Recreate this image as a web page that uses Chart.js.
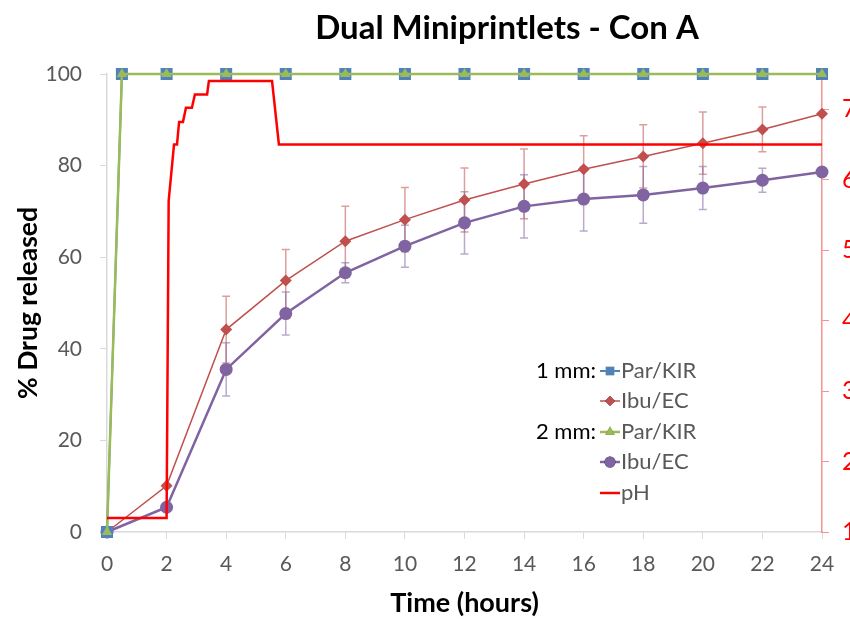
<!DOCTYPE html>
<html><head><meta charset="utf-8">
<script src="https://cdn.jsdelivr.net/npm/chart.js@4"></script>
<style>
html,body{margin:0;padding:0;overflow:hidden;background:#fff;width:850px;height:621px}
#wrap{position:relative;width:1014px;height:621px}
</style>
</head><body>
<div id="wrap"><canvas id="c" width="1014" height="621"></canvas></div>
<script>
// ---- data ----
const parTimes   = [0, 0.5, 2, 4, 6, 8, 10, 12, 14, 16, 18, 20, 22, 24];
const parKir1mm  = [0, 100, 100, 100, 100, 100, 100, 100, 100, 100, 100, 100, 100, 100];
const parKir2mm  = [0, 100, 100, 100, 100, 100, 100, 100, 100, 100, 100, 100, 100, 100];
const ibuTimes   = [0, 2, 4, 6, 8, 10, 12, 14, 16, 18, 20, 22, 24];
const ibuEc1mm   = [0, 10.1, 44.2, 54.9, 63.5, 68.2, 72.5, 76.0, 79.2, 82.0, 84.9, 87.9, 91.3];
const ibuEc1mmErr= [0, 0, 7.3, 6.8, 7.6, 7.0, 7.0, 7.6, 7.3, 6.9, 6.8, 4.9, 0];
const ibuEc2mm   = [0, 5.4, 35.5, 47.7, 56.6, 62.4, 67.5, 71.1, 72.7, 73.6, 75.1, 76.8, 78.6];
const ibuEc2mmErr= [0, 0, 5.8, 4.7, 2.2, 4.6, 6.8, 6.9, 7.0, 6.2, 4.7, 2.6, 0];
const phTimes    = [0, 2, 2.07, 2.25, 2.35, 2.42, 2.55, 2.65, 2.85, 2.95, 3.36, 3.42, 5.54, 5.77, 24];
const phValues   = [1.2, 1.2, 5.7, 6.5, 6.5, 6.82, 6.82, 7.02, 7.02, 7.21, 7.21, 7.4, 7.4, 6.5, 6.5];
const xTicks     = [0, 2, 4, 6, 8, 10, 12, 14, 16, 18, 20, 22, 24];
const legendNames   = ['Par/KIR', 'Ibu/EC', 'Par/KIR', 'Ibu/EC', 'pH'];
const legendPrefix  = ['1 mm:', '', '2 mm:', '', ''];

const toXY = (xs, ys) => xs.map((x, i) => ({x, y: ys[i]}));

Chart.defaults.font.family = 'Lato, "Open Sans", sans-serif';

const C_BLUE = '#4F81BD', C_GREEN = '#9BBB59', C_RED = '#C0504D', C_PURPLE = '#8064A2', C_PH = '#FF0000';

const datasets = [
  {label: 'pH', data: toXY(phTimes, phValues), yAxisID: 'y1', borderColor: C_PH, backgroundColor: C_PH,
   borderWidth: 2.5, pointRadius: 0, tension: 0, order: 0, clip: false},
  {label: '2 mm: Par/KIR', data: toXY(parTimes, parKir2mm), borderColor: C_GREEN, backgroundColor: C_GREEN,
   borderWidth: 2.5, pointStyle: 'triangle', pointRadius: 6, pointBorderWidth: 0, tension: 0, order: 1, clip: false},
  {label: '1 mm: Par/KIR', data: toXY(parTimes, parKir1mm), borderColor: C_BLUE, backgroundColor: C_BLUE,
   borderWidth: 2, pointStyle: 'rect', pointRadius: 8.5, pointBorderWidth: 0, tension: 0, order: 2, clip: false},
  {label: '1 mm: Ibu/EC', data: toXY(ibuTimes, ibuEc1mm), errors: ibuEc1mmErr, errColor: 'rgba(192,80,77,0.55)',
   borderColor: C_RED, backgroundColor: C_RED, borderWidth: 1.5, pointStyle: 'rectRot', pointRadius: 6,
   pointBorderWidth: 0, tension: 0, order: 3, clip: false},
  {label: '2 mm: Ibu/EC', data: toXY(ibuTimes, ibuEc2mm), errors: ibuEc2mmErr, errColor: 'rgba(128,100,162,0.55)',
   borderColor: C_PURPLE, backgroundColor: C_PURPLE, borderWidth: 2.5, pointStyle: 'circle', pointRadius: 6.5,
   pointBorderWidth: 0, tension: 0, order: 4, clip: false}
];

const errorBars = {
  id: 'errorBars',
  beforeDatasetsDraw(chart) {
    const ctx = chart.ctx, xs = chart.scales.x, ys = chart.scales.y;
    chart.data.datasets.forEach(ds => {
      if (!ds.errors) return;
      ctx.save();
      ctx.strokeStyle = ds.errColor; ctx.lineWidth = 1.5;
      ds.data.forEach((p, i) => {
        const e = ds.errors[i]; if (!e) return;
        const px = xs.getPixelForValue(p.x);
        const t = ys.getPixelForValue(p.y + e), b = ys.getPixelForValue(p.y - e);
        ctx.beginPath();
        ctx.moveTo(px, t); ctx.lineTo(px, b);
        ctx.moveTo(px - 4, t); ctx.lineTo(px + 4, t);
        ctx.moveTo(px - 4, b); ctx.lineTo(px + 4, b);
        ctx.stroke();
      });
      ctx.restore();
    });
  }
};

const legendOrder = ['1 mm: Par/KIR', '1 mm: Ibu/EC', '2 mm: Par/KIR', '2 mm: Ibu/EC', 'pH'];
const legendMarkerR = [6, 5, 5.5, 5.5, 0];
const customLegend = {
  id: 'customLegend',
  afterDraw(chart) {
    const ctx = chart.ctx;
    const x0 = 600, x1 = 620, rows = [371, 401, 432, 462, 493];
    ctx.save();
    ctx.font = '22px Lato, "Open Sans", sans-serif';
    ctx.textBaseline = 'middle';
    legendOrder.forEach((lab, i) => {
      const ds = chart.data.datasets.find(d => d.label === lab);
      const y = rows[i];
      ctx.strokeStyle = ds.borderColor; ctx.lineWidth = ds.borderWidth;
      ctx.beginPath(); ctx.moveTo(x0, y); ctx.lineTo(x1, y); ctx.stroke();
      if (legendMarkerR[i]) {
        Chart.helpers.drawPoint(ctx, {pointStyle: ds.pointStyle, radius: legendMarkerR[i], borderWidth: 0, rotation: 0},
          (x0 + x1) / 2, y);
        ctx.fillStyle = ds.backgroundColor; ctx.fill();
      }
      ctx.fillStyle = '#595959'; ctx.textAlign = 'left';
      ctx.fillText(legendNames[i], x1 + 1, y);
      if (legendPrefix[i]) {
        ctx.fillStyle = '#000'; ctx.textAlign = 'right';
        ctx.fillText(legendPrefix[i], x0 - 4, y);
      }
    });
    ctx.restore();
  }
};

new Chart(document.getElementById('c'), {
  type: 'line',
  data: {datasets},
  plugins: [errorBars, customLegend],
  options: {
    responsive: false, animation: false, devicePixelRatio: 1,
    layout: {padding: 0},
    plugins: {
      legend: {display: false}, tooltip: {enabled: false},
      title: {display: true, text: 'Dual Miniprintlets - Con A', color: '#000',
        font: {size: 33, weight: 'bold'}, padding: {top: 8.2, bottom: 26.2}}
    },
    scales: {
      x: {
        type: 'linear', min: 0, max: 24,
        afterBuildTicks: s => { s.ticks = xTicks.map(v => ({value: v})); },
        afterFit: s => { s.height = 89; },
        ticks: {color: '#595959', font: {size: 21}, padding: 13, maxRotation: 0},
        grid: {drawOnChartArea: false, drawTicks: true, tickLength: 7, color: '#D9D9D9', tickColor: '#D9D9D9'},
        border: {color: '#D9D9D9', width: 1.5},
        title: {display: true, text: 'Time (hours)', color: '#000', font: {size: 27, weight: 'bold'}, padding: {top: 0, bottom: 1.8}}
      },
      y: {
        position: 'left', min: 0, max: 100,
        ticks: {stepSize: 20, color: '#595959', font: {size: 21}, padding: 18},
        afterFit: s => { s.width = 107; },
        grid: {drawOnChartArea: false, drawTicks: true, tickLength: 7, color: '#D9D9D9', tickColor: '#D9D9D9'},
        border: {color: '#D9D9D9', width: 1.5},
        title: {display: true, text: '% Drug released', color: '#000', font: {size: 26.5, weight: 'bold'}, padding: {top: 12.1, bottom: 0}}
      },
      y1: {
        position: 'right', min: 1, max: 7.5,
        afterBuildTicks: s => { s.ticks = s.ticks.filter(t => Number.isInteger(t.value)); },
        afterFit: s => { s.width = 1014 - 822; },
        ticks: {stepSize: 1, color: '#FF0000', font: {size: 25}, padding: 13},
        grid: {drawOnChartArea: false, drawTicks: true, tickLength: 7, color: 'rgba(240,120,120,0.8)', tickColor: 'rgba(240,120,120,0.8)'},
        border: {color: 'rgba(240,120,120,0.8)', width: 1.5}
      }
    }
  }
});
</script>
</body></html>
